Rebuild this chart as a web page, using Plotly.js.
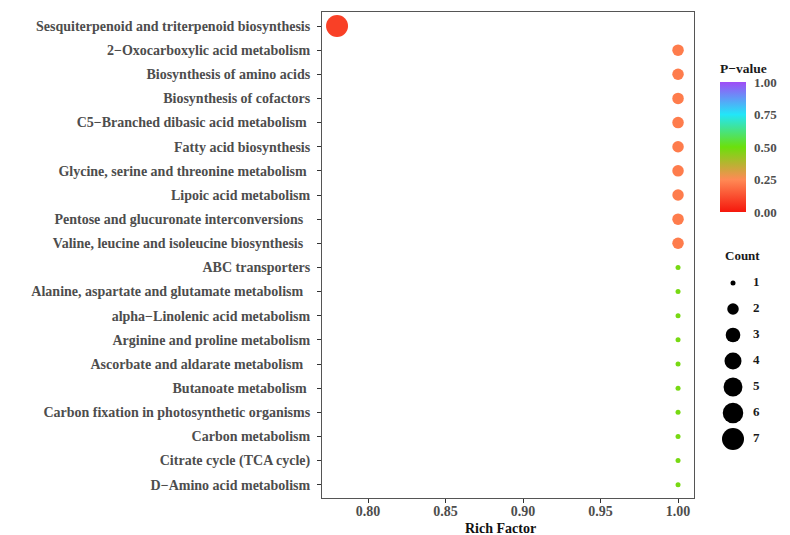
<!DOCTYPE html>
<html>
<head>
<meta charset="utf-8">
<script src="https://cdn.plot.ly/plotly-3.0.1.min.js"></script>
<style>html,body{margin:0;padding:0;background:#fff;}#chart{width:790px;height:535px;}</style>
</head>
<body>
<div id="chart"></div>
<script>
// ---- data ----
const pathways = [
  "Sesquiterpenoid and triterpenoid biosynthesis",
  "2\u2212Oxocarboxylic acid metabolism",
  "Biosynthesis of amino acids",
  "Biosynthesis of cofactors",
  "C5\u2212Branched dibasic acid metabolism\u00a0",
  "Fatty acid biosynthesis",
  "Glycine, serine and threonine metabolism\u00a0",
  "Lipoic acid metabolism",
  "Pentose and glucuronate interconversions\u00a0\u00a0",
  "Valine, leucine and isoleucine biosynthesis\u00a0\u00a0",
  "ABC transporters",
  "Alanine, aspartate and glutamate metabolism\u00a0\u00a0",
  "alpha\u2212Linolenic acid metabolism",
  "Arginine and proline metabolism",
  "Ascorbate and aldarate metabolism\u00a0\u00a0",
  "Butanoate metabolism\u00a0",
  "Carbon fixation in photosynthetic organisms",
  "Carbon metabolism",
  "Citrate cycle (TCA cycle)",
  "D\u2212Amino acid metabolism"
];
const richFactor = [0.78, 1, 1, 1, 1, 1, 1, 1, 1, 1, 1, 1, 1, 1, 1, 1, 1, 1, 1, 1];
const pValue = [0.09, 0.22, 0.22, 0.22, 0.22, 0.22, 0.22, 0.22, 0.22, 0.22,
                0.48, 0.48, 0.48, 0.48, 0.48, 0.48, 0.48, 0.48, 0.48, 0.48];
const count = [7, 2, 2, 2, 2, 2, 2, 2, 2, 2, 1, 1, 1, 1, 1, 1, 1, 1, 1, 1];
const countLevels = [1, 2, 3, 4, 5, 6, 7];
const xTicks = [0.80, 0.85, 0.90, 0.95, 1.00];
const cbTicks = [0, 0.25, 0.5, 0.75, 1.0];

// ---- styling helpers ----
const SERIF = "Liberation Serif, Times New Roman, serif";
function sizeFor(c) {
  const t = (Math.sqrt(c) - 1) / (Math.sqrt(7) - 1);
  return 5 + 17 * Math.pow(t, 0.7);
}
const cscale = [
  [0.00, "#f5170c"],
  [0.25, "#ff8a55"],
  [0.50, "#6be00c"],
  [0.75, "#22e6f8"],
  [1.00, "#a04cf6"]
];

const W = 790, H = 535;
const L = 322, R = 0, T = 12, B = 37;
const plotW = W - L - R, plotH = H - T - B;
const mainRightPx = 694;
const mainDomEnd = (mainRightPx - L) / plotW;
const cbLeftPx = 720;
const cbX = (cbLeftPx - L) / plotW;
const cbTopPx = 82, cbBotPx = 212;
const cbY = (H - B - cbBotPx) / plotH;

const mainTrace = {
  type: "scatter",
  mode: "markers",
  x: richFactor,
  y: pathways,
  xaxis: "x", yaxis: "y",
  marker: {
    size: count.map(sizeFor),
    color: pValue,
    cmin: 0, cmax: 1,
    colorscale: cscale,
    opacity: 1,
    line: {width: 0},
    colorbar: {
      x: cbX, xanchor: "left",
      y: cbY, yanchor: "bottom",
      len: cbBotPx - cbTopPx, lenmode: "pixels",
      thickness: 26, thicknessmode: "pixels",
      outlinewidth: 0,
      xpad: 0, ypad: 0,
      tickvals: cbTicks,
      ticktext: cbTicks.map(v => v.toFixed(2)),
      ticks: "outside", ticklen: 6, tickcolor: "rgba(255,255,255,0)",
      tickfont: {family: SERIF, size: 13, color: "#4d4d4d", weight: "bold"}
    }
  },
  showlegend: false,
  hoverinfo: "x+y"
};

// size legend (Count)
const legY0 = 283, legStep = 26;
const legendDots = {
  type: "scatter", mode: "markers",
  x: countLevels.map(() => 733 - 718),
  y: countLevels.map((c, i) => legY0 + i * legStep),
  xaxis: "x2", yaxis: "y2",
  marker: {size: countLevels.map(sizeFor), color: "#000000", opacity: 1, line: {width: 0}},
  showlegend: false, hoverinfo: "skip"
};
const legendText = {
  type: "scatter", mode: "text",
  x: countLevels.map(() => 753 - 718),
  y: countLevels.map((c, i) => legY0 + i * legStep),
  text: countLevels.map(String),
  textposition: "middle right",
  textfont: {family: SERIF, size: 13, color: "#1a1a1a", weight: "bold"},
  xaxis: "x2", yaxis: "y2",
  showlegend: false, hoverinfo: "skip"
};

const layout = {
  width: W, height: H,
  margin: {l: L, r: R, t: T, b: B, pad: 0},
  paper_bgcolor: "#ffffff",
  plot_bgcolor: "#ffffff",
  font: {family: SERIF, color: "#4d4d4d"},
  xaxis: {
    domain: [0, mainDomEnd],
    range: [0.7703, 1.0103],
    tickvals: xTicks,
    ticktext: xTicks.map(v => v.toFixed(2)),
    showgrid: false, zeroline: false,
    showline: true, mirror: true, linecolor: "#555555", linewidth: 1,
    ticks: "outside", ticklen: 4, tickcolor: "#333333",
    ticklabelstandoff: -4,
    tickfont: {family: SERIF, size: 14, color: "#4d4d4d", weight: "bold"}
  },
  yaxis: {
    type: "category",
    categoryorder: "array",
    categoryarray: pathways,
    range: [19.55, -0.58],
    showgrid: false, zeroline: false,
    showline: true, mirror: true, linecolor: "#555555", linewidth: 1,
    ticks: "outside", ticklen: 4, tickcolor: "#333333",
    ticklabelstandoff: 4,
    tickfont: {family: SERIF, size: 14, color: "#4d4d4d", weight: "bold"}
  },
  xaxis2: {
    domain: [(718 - L) / plotW, 1], anchor: "y2",
    range: [0, W - 718],
    visible: false, fixedrange: true
  },
  yaxis2: {
    domain: [0, 1], anchor: "x2",
    range: [H - B, T],
    visible: false, fixedrange: true
  },
  annotations: [
    {
      xref: "x2", yref: "y2",
      x: 723 - 718, y: 255,
      xanchor: "left", yanchor: "middle",
      text: "<b>Count</b>", showarrow: false,
      font: {family: SERIF, size: 13, color: "#1a1a1a"}
    },
    {
      xref: "x2", yref: "y2",
      x: 0, y: 68,
      xanchor: "left", yanchor: "middle",
      text: "<b>P\u2212value</b>", showarrow: false,
      font: {family: SERIF, size: 13.5, color: "#1a1a1a"}
    },
    {
      xref: "paper", yref: "paper",
      x: (500 - L) / plotW, y: -(528 - (H - B)) / plotH,
      xanchor: "center", yanchor: "middle",
      text: "<b>Rich Factor</b>", showarrow: false,
      font: {family: SERIF, size: 14, color: "#111111"}
    }
  ]
};

Plotly.newPlot("chart", [mainTrace, legendDots, legendText], layout, {displayModeBar: false, staticPlot: true});
</script>
</body>
</html>
